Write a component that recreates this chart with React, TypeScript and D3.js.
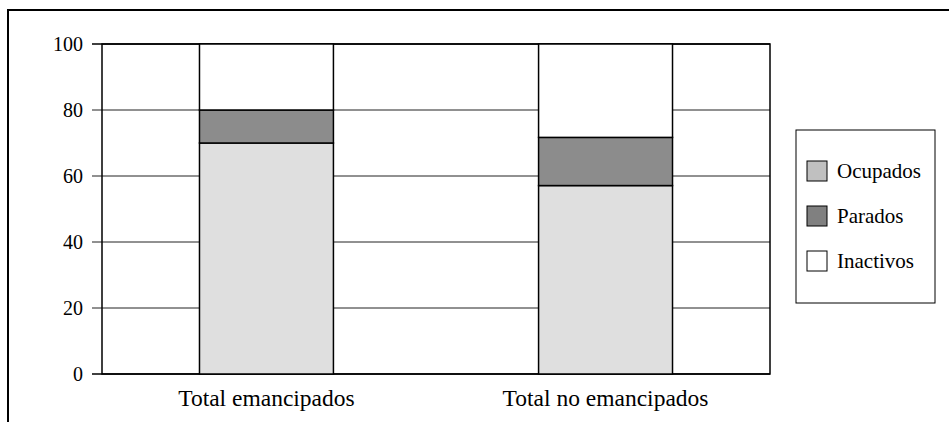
import * as d3 from "d3";

const categories = ["Total emancipados", "Total no emancipados"];
const seriesNames = ["Ocupados", "Parados", "Inactivos"];
const ocupados = [70, 57.1];
const parados = [10, 14.6];
const inactivos = [20, 28.3];
const yTicks = [0, 20, 40, 60, 80, 100];

const barColors = ["#dfdfdf", "#8c8c8c", "#ffffff"];
const legendColors = ["#c0c0c0", "#808080", "#ffffff"];

// plot area in page pixels
const plot = { left: 102, right: 770, top: 44, bottom: 374 };
const font = "Liberation Serif";

export default function App() {
  const rows = categories.map((c, i) => ({
    category: c,
    Ocupados: ocupados[i],
    Parados: parados[i],
    Inactivos: inactivos[i],
  }));
  const stacked = d3.stack<any>().keys(seriesNames)(rows);

  const x = d3
    .scaleBand()
    .domain(categories)
    .range([plot.left, plot.right])
    .paddingInner(0.605)
    .paddingOuter(0.2875);
  const y = d3.scaleLinear().domain([0, 100]).range([plot.bottom, plot.top]);

  return (
    <svg
      width={949}
      height={422}
      style={{ position: "absolute", left: 0, top: 0, background: "#fff", fontFamily: font }}
    >
      {/* outer frame, runs off the right and bottom */}
      <rect x={8} y={10} width={1000} height={500} fill="none" stroke="#000" strokeWidth={2} />

      {/* gridlines + ticks */}
      {yTicks.map((t) => (
        <g key={t}>
          <line
            x1={plot.left - 10}
            x2={plot.right}
            y1={y(t)}
            y2={y(t)}
            stroke={t === 0 || t === 100 ? "#000" : "#222"}
            strokeWidth={t === 0 || t === 100 ? 1.5 : 1}
          />
          <text x={83} y={y(t)} dy="0.35em" textAnchor="end" fontSize={20} style={{ fontFamily: font }}>
            {t}
          </text>
        </g>
      ))}

      {/* plot border */}
      <rect
        x={plot.left}
        y={plot.top}
        width={plot.right - plot.left}
        height={plot.bottom - plot.top}
        fill="none"
        stroke="#000"
        strokeWidth={1.5}
      />

      {/* stacked bars */}
      {stacked.map((s, si) =>
        s.map((d, i) => (
          <rect
            key={`${si}-${i}`}
            x={x(categories[i])}
            y={y(d[1])}
            width={x.bandwidth()}
            height={y(d[0]) - y(d[1])}
            fill={barColors[si]}
            stroke="#000"
            strokeWidth={1.5}
          />
        ))
      )}

      {/* category labels */}
      {categories.map((c) => (
        <text
          key={c}
          x={(x(c) ?? 0) + x.bandwidth() / 2}
          y={406}
          textAnchor="middle"
          fontSize={23.5}
          style={{ fontFamily: font }}
        >
          {c}
        </text>
      ))}

      {/* legend */}
      <rect x={796} y={130} width={139} height={173} fill="#fff" stroke="#000" strokeWidth={1} />
      {seriesNames.map((n, i) => (
        <g key={n} transform={`translate(807, ${171 + i * 45})`}>
          <rect x={0} y={-10} width={20} height={20} fill={legendColors[i]} stroke="#000" strokeWidth={1} />
          <text x={30} y={0} dy="0.35em" fontSize={21} style={{ fontFamily: font }}>
            {n}
          </text>
        </g>
      ))}
    </svg>
  );
}
